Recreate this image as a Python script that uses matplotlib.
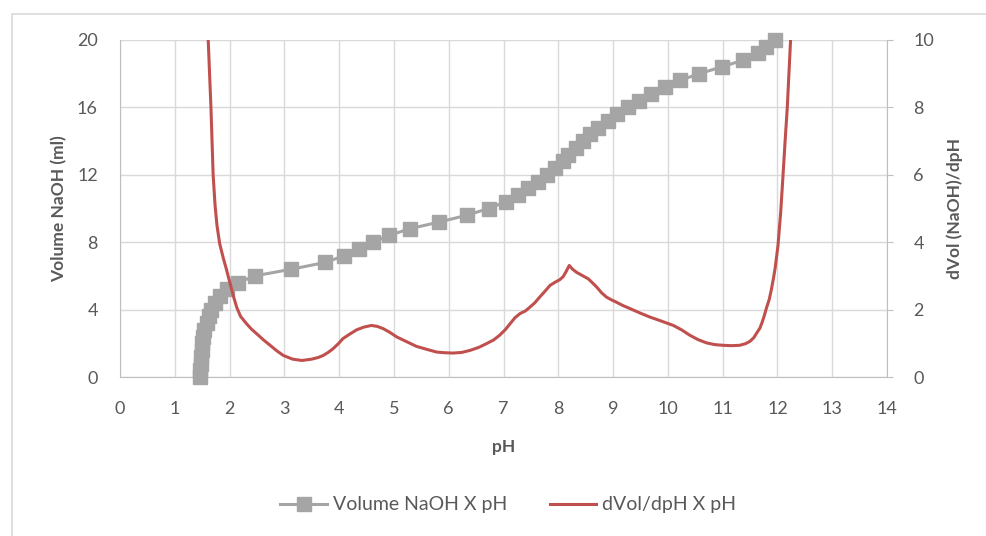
import matplotlib
matplotlib.use("Agg")
import matplotlib.pyplot as plt
from matplotlib.patches import Rectangle

# Volume NaOH (ml) vs pH
vol_ml = [0.0, 0.4, 0.8, 1.2, 1.6, 2.0, 2.4, 2.8, 3.2, 3.6, 4.0, 4.4, 4.8, 5.2,
          5.6, 6.0, 6.4, 6.8, 7.2, 7.6, 8.0, 8.4, 8.8, 9.2, 9.6, 10.0, 10.4,
          10.8, 11.2, 11.6, 12.0, 12.4, 12.8, 13.2, 13.6, 14.0, 14.4, 14.8,
          15.2, 15.6, 16.0, 16.4, 16.8, 17.2, 17.6, 18.0, 18.4, 18.8, 19.2,
          19.6, 20.0]
ph_vol = [1.46, 1.46, 1.47, 1.48, 1.49, 1.50, 1.52, 1.54, 1.58, 1.62, 1.66,
          1.73, 1.83, 1.96, 2.16, 2.46, 3.13, 3.75, 4.09, 4.36, 4.62, 4.91,
          5.29, 5.83, 6.33, 6.73, 7.04, 7.27, 7.45, 7.63, 7.79, 7.94, 8.09,
          8.18, 8.32, 8.45, 8.58, 8.73, 8.91, 9.07, 9.28, 9.48, 9.70, 9.95,
          10.22, 10.57, 10.98, 11.37, 11.65, 11.80, 11.95]

# dVol/dpH vs pH
ph_deriv = [1.61, 1.635, 1.66, 1.68, 1.70, 1.735, 1.77, 1.82, 1.89, 1.95,
            2.01, 2.07, 2.13, 2.20, 2.31, 2.40, 2.49, 2.62, 2.74, 2.86, 2.98,
            3.15, 3.32, 3.50, 3.62, 3.71, 3.80, 3.89, 3.98, 4.07, 4.20, 4.32,
            4.45, 4.59, 4.70, 4.81, 4.93, 5.05, 5.23, 5.41, 5.60, 5.78, 5.93,
            6.08, 6.24, 6.39, 6.55, 6.69, 6.82, 6.93, 7.03, 7.12, 7.21, 7.30,
            7.40, 7.48, 7.57, 7.66, 7.76, 7.85, 7.95, 8.03, 8.09, 8.14, 8.20,
            8.26, 8.33, 8.44, 8.55, 8.62, 8.70, 8.79, 8.88, 8.97, 9.06, 9.18,
            9.31, 9.49, 9.67, 9.88, 10.10, 10.25, 10.40, 10.55, 10.71, 10.86,
            11.01, 11.16, 11.31, 11.42, 11.50, 11.57, 11.62, 11.68, 11.72,
            11.76, 11.80, 11.85, 11.89, 11.93, 11.96, 12.01, 12.06, 12.10,
            12.14, 12.18, 12.21, 12.24]
dvol_dph = [10.0, 9.0, 8.0, 7.0, 6.0, 5.1, 4.5, 3.95, 3.50, 3.15,
            2.77, 2.40, 2.07, 1.80, 1.58, 1.42, 1.29, 1.10, 0.94, 0.78, 0.64,
            0.53, 0.49, 0.53, 0.58, 0.64, 0.73, 0.84, 0.98, 1.14, 1.28, 1.40,
            1.48, 1.53, 1.50, 1.43, 1.32, 1.19, 1.05, 0.91, 0.82, 0.74, 0.72,
            0.71, 0.73, 0.79, 0.88, 0.99, 1.10, 1.24, 1.40, 1.58, 1.76, 1.88,
            1.96, 2.07, 2.20, 2.37, 2.55, 2.72, 2.82, 2.89, 2.98, 3.12, 3.31,
            3.20, 3.11, 3.01, 2.91, 2.80, 2.67, 2.50, 2.37, 2.29, 2.22, 2.12,
            2.03, 1.90, 1.78, 1.66, 1.53, 1.40, 1.24, 1.11, 1.01, 0.96,
            0.94, 0.93, 0.94, 0.99, 1.06, 1.17, 1.30, 1.45, 1.62,
            1.82, 2.05, 2.30, 2.60, 2.95, 3.25, 3.90, 4.90, 5.93,
            7.00, 8.00, 9.00, 10.0]

x_ticks = list(range(0, 15))
left_ticks = [0, 4, 8, 12, 16, 20]
right_ticks = [0, 2, 4, 6, 8, 10]

GRAY = "#A5A5A5"
RED = "#C0504D"
TXT = "#595959"
GRID = "#D9D9D9"
AXIS = "#BFBFBF"

plt.rcParams["font.family"] = ["Lato", "DejaVu Sans"]

fig = plt.figure(figsize=(9.87, 5.36), dpi=100)
fig.patches.append(Rectangle((12 / 987, -0.1), 1.2, 1 - 14 / 536 + 0.1,
                             transform=fig.transFigure, fill=False,
                             edgecolor=GRID, linewidth=1.2))

ax = fig.add_axes([120 / 987, 1 - 377 / 536, 767 / 987, 337 / 536])
ax2 = ax.twinx()

ax.plot(ph_vol, vol_ml, color=GRAY, linewidth=2.2, marker="s",
        markersize=9.5, label="Volume NaOH X pH", clip_on=False, zorder=3)
ax2.plot(ph_deriv, dvol_dph, color=RED, linewidth=2.2,
         label="dVol/dpH X pH", zorder=3, solid_joinstyle="round")

ax.set_xlim(0, 14)
ax.set_ylim(0, 20)
ax2.set_ylim(0, 10)
ax.set_xticks(x_ticks)
ax.set_yticks(left_ticks)
ax2.set_yticks(right_ticks)

ax.grid(True, color=GRID, linewidth=1)
ax.set_axisbelow(True)

for a in (ax, ax2):
    a.spines["top"].set_visible(False)
    for s in a.spines.values():
        s.set_color(AXIS)
ax.spines["right"].set_visible(False)
ax2.spines["left"].set_visible(False)
ax2.spines["bottom"].set_visible(False)

ax.tick_params(axis="x", length=0, pad=17, labelsize=13, labelcolor=TXT)
ax.tick_params(axis="y", length=0, pad=16, labelsize=13, labelcolor=TXT)
ax2.tick_params(axis="y", length=4, color=AXIS, pad=15, labelsize=13,
                labelcolor=TXT)

ax.set_xlabel("pH", fontsize=12.5, fontweight="bold", color=TXT, labelpad=16)
ax.set_ylabel("Volume NaOH (ml)", fontsize=12.5, fontweight="bold",
              color=TXT, labelpad=7)
ax2.set_ylabel("dVol (NaOH)/dpH", fontsize=12.5, fontweight="bold",
               color=TXT, rotation=90, labelpad=9)

h1, l1 = ax.get_legend_handles_labels()
h2, l2 = ax2.get_legend_handles_labels()
fig.legend(h1 + h2, l1 + l2, loc="center", bbox_to_anchor=(0.515, 0.058),
           ncol=2, frameon=False, fontsize=14, labelcolor=TXT,
           handlelength=2.4, columnspacing=2.2, handletextpad=0.3)

fig.savefig("out.png", dpi=100)
